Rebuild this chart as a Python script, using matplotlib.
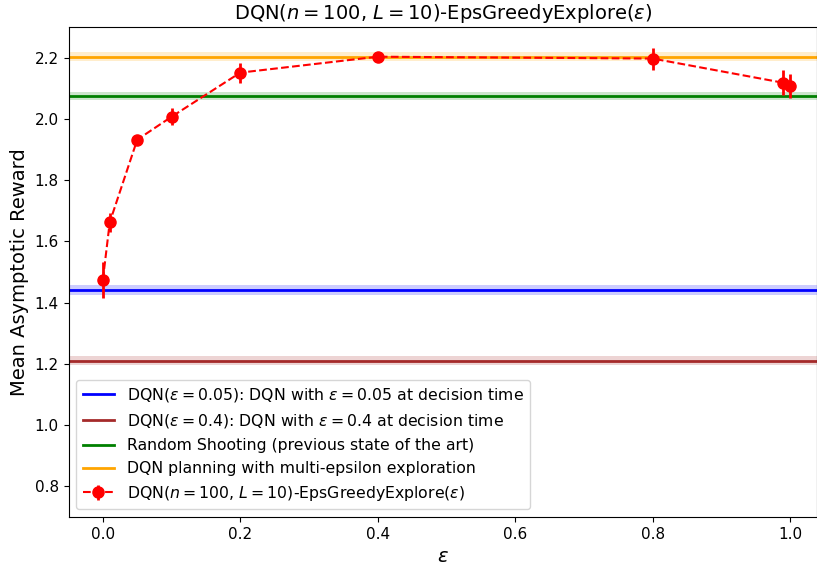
import matplotlib
matplotlib.use("Agg")
import matplotlib.pyplot as plt
import numpy as np

# epsilon sweep for DQN(n=100, L=10)-EpsGreedyExplore
eps = [0.0, 0.01, 0.05, 0.1, 0.2, 0.4, 0.8, 0.99, 1.0]
reward = [1.474, 1.662, 1.932, 2.007, 2.151, 2.203, 2.197, 2.118, 2.108]
reward_err = [0.06, 0.03, 0.008, 0.027, 0.033, 0.008, 0.036, 0.04, 0.04]

# baselines: (label, mean, half band width, colour)
baseline_labels = [
    r"DQN($\epsilon = 0.05$): DQN with $\epsilon = 0.05$ at decision time",
    r"DQN($\epsilon = 0.4$): DQN with $\epsilon = 0.4$ at decision time",
    "Random Shooting (previous state of the art)",
    "DQN planning with multi-epsilon exploration",
]
baseline_means = [1.442, 1.211, 2.075, 2.203]
baseline_bands = [0.016, 0.014, 0.014, 0.014]
baseline_colors = ["blue", "brown", "green", "orange"]

fig = plt.figure(figsize=(8.17, 5.67), dpi=100)
ax = fig.add_axes([68.5 / 817, 1 - 517 / 567, 749 / 817, 490 / 567])

for lab, m, b, c in zip(baseline_labels, baseline_means, baseline_bands, baseline_colors):
    ax.axhline(m, color=c, lw=2, label=lab)
    ax.axhspan(m - b, m + b, color=c, alpha=0.2, lw=0)

ax.errorbar(eps, reward, yerr=reward_err, fmt="o--", color="red",
            markersize=8, lw=1.5, elinewidth=2,
            label=r"DQN($n = 100$, $L = 10$)-EpsGreedyExplore($\epsilon$)")

ax.set_xlim(-0.05, 1.04)
ax.set_ylim(0.7, 2.3)
ax.set_xticks(np.arange(0, 1.01, 0.2))
ax.set_title(r"DQN($n = 100$, $L = 10$)-EpsGreedyExplore($\epsilon$)", fontsize=14)
ax.set_xlabel(r"$\epsilon$", fontsize=14)
ax.set_ylabel("Mean Asymptotic Reward", fontsize=14)
ax.tick_params(labelsize=11)
ax.legend(loc="lower left", fontsize=11.3)

fig.savefig("out.png", dpi=100)
